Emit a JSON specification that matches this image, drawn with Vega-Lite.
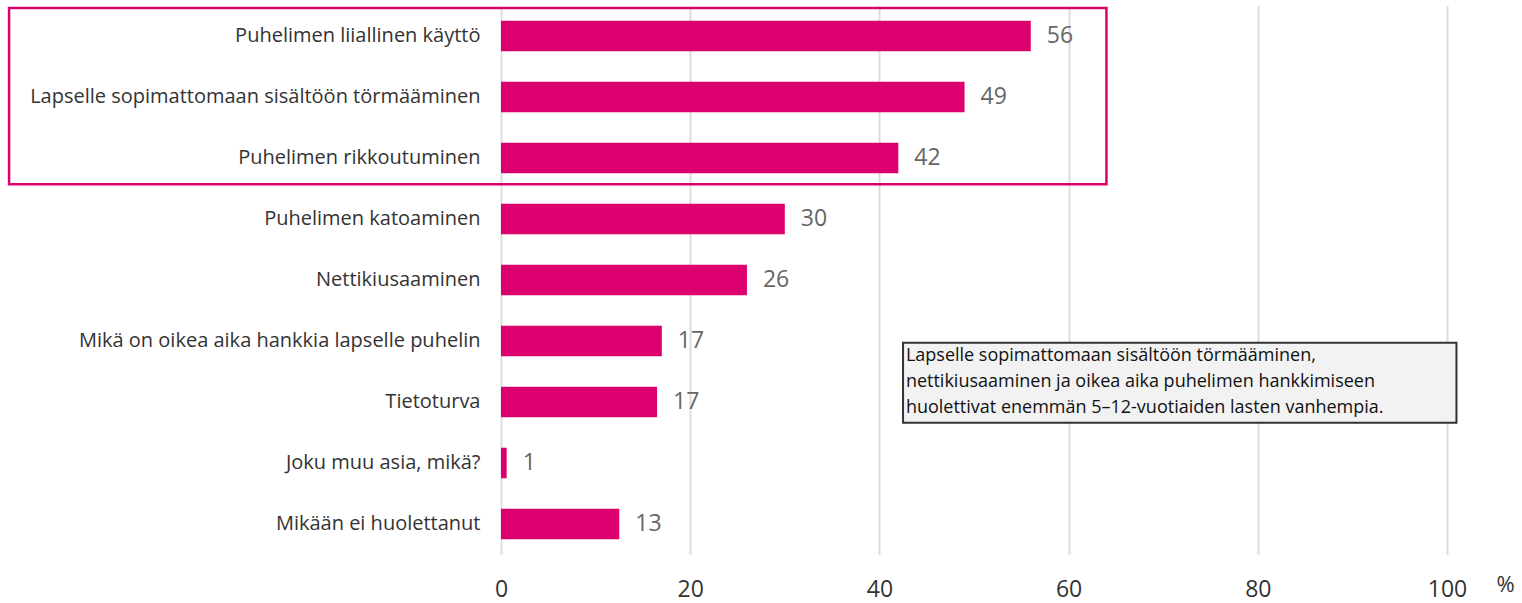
{
  "$schema": "https://vega.github.io/schema/vega-lite/v6.json",
  "width": 946,
  "height": 549,
  "autosize": {"type": "none"},
  "padding": {"left": 501, "top": 5.5, "right": 75, "bottom": 48.5},
  "background": "white",
  "config": {"view": {"stroke": null}, "font": "Open Sans"},
  "datasets": {
    "bars": [
      {"asia": "Puhelimen liiallinen käyttö", "arvo": 56, "txt": "56"},
      {"asia": "Lapselle sopimattomaan sisältöön törmääminen", "arvo": 49, "txt": "49"},
      {"asia": "Puhelimen rikkoutuminen", "arvo": 42, "txt": "42"},
      {"asia": "Puhelimen katoaminen", "arvo": 30, "txt": "30"},
      {"asia": "Nettikiusaaminen", "arvo": 26, "txt": "26"},
      {"asia": "Mikä on oikea aika hankkia lapselle puhelin", "arvo": 17, "txt": "17"},
      {"asia": "Tietoturva", "arvo": 16.5, "txt": "17"},
      {"asia": "Joku muu asia, mikä?", "arvo": 0.6, "txt": "1"},
      {"asia": "Mikään ei huolettanut", "arvo": 12.5, "txt": "13"}
    ],
    "boxes": [
      {"kind": "highlight", "x1": -52, "x2": 64, "r1": 0.04, "r2": 2.93}
    ],
    "note": [
      {"x1": 42.5, "x2": 101, "r1": 5.53, "r2": 6.84, "tx": 42.8, "ty": 5.6, "teksti": ["Lapselle sopimattomaan sisältöön törmääminen,", "nettikiusaaminen ja oikea aika puhelimen hankkimiseen", "huolettivat enemmän 5–12-vuotiaiden lasten vanhempia."]}
    ]
  },
  "layer": [
    {
      "data": {"name": "bars"},
      "encoding": {
        "y": {
          "field": "asia", "type": "nominal", "sort": null,
          "scale": {"paddingInner": 0.5, "paddingOuter": 0.25},
          "axis": {"title": null, "domain": false, "ticks": false, "labelFontSize": 20, "labelColor": "#333333", "labelPadding": 21, "labelLimit": 500}
        },
        "x": {
          "field": "arvo", "type": "quantitative",
          "scale": {"domain": [0, 100], "nice": false},
          "axis": {"values": [0, 20, 40, 60, 80, 100], "domain": false, "ticks": false, "grid": true, "gridColor": "#dddddd", "gridWidth": 2, "labelFontSize": 23, "labelColor": "#333333", "labelPadding": 24, "labelFlush": false,
            "title": "%", "titleFontSize": 22, "titleFontWeight": "normal", "titleColor": "#333333", "titleX": 1004, "titleY": 30, "titleAlign": "center", "titleBaseline": "middle"}
        }
      },
      "layer": [
        {"mark": {"type": "bar", "color": "#dc006e"}},
        {
          "mark": {"type": "text", "align": "left", "baseline": "middle", "dx": 16, "fontSize": 23, "color": "#666666"},
          "encoding": {"text": {"field": "txt"}}
        }
      ]
    },
    {
      "data": {"name": "boxes"},
      "mark": {"type": "rect", "fill": null, "stroke": "#dc006e", "strokeWidth": 2.5, "clip": false},
      "encoding": {
        "x": {"field": "x1", "type": "quantitative"},
        "x2": {"field": "x2"},
        "y": {"field": "r1", "type": "quantitative", "scale": {"domain": [0, 9], "reverse": true, "nice": false, "zero": false}, "axis": null},
        "y2": {"field": "r2"}
      }
    },
    {
      "data": {"name": "note"},
      "layer": [
        {
          "mark": {"type": "rect", "fill": "#f2f2f2", "stroke": "#333333", "strokeWidth": 2, "clip": false},
          "encoding": {
            "x": {"field": "x1", "type": "quantitative"},
            "x2": {"field": "x2"},
            "y": {"field": "r1", "type": "quantitative", "scale": {"domain": [0, 9], "reverse": true, "nice": false, "zero": false}, "axis": null},
            "y2": {"field": "r2"}
          }
        },
        {
          "mark": {"type": "text", "align": "left", "baseline": "top", "fontSize": 18, "lineHeight": 26, "color": "#111111", "clip": false},
          "encoding": {
            "x": {"field": "tx", "type": "quantitative"},
            "y": {"field": "ty", "type": "quantitative", "scale": {"domain": [0, 9], "reverse": true, "nice": false, "zero": false}, "axis": null},
            "text": {"field": "teksti"}
          }
        }
      ]
    }
  ],
  "resolve": {"scale": {"y": "independent"}}
}
